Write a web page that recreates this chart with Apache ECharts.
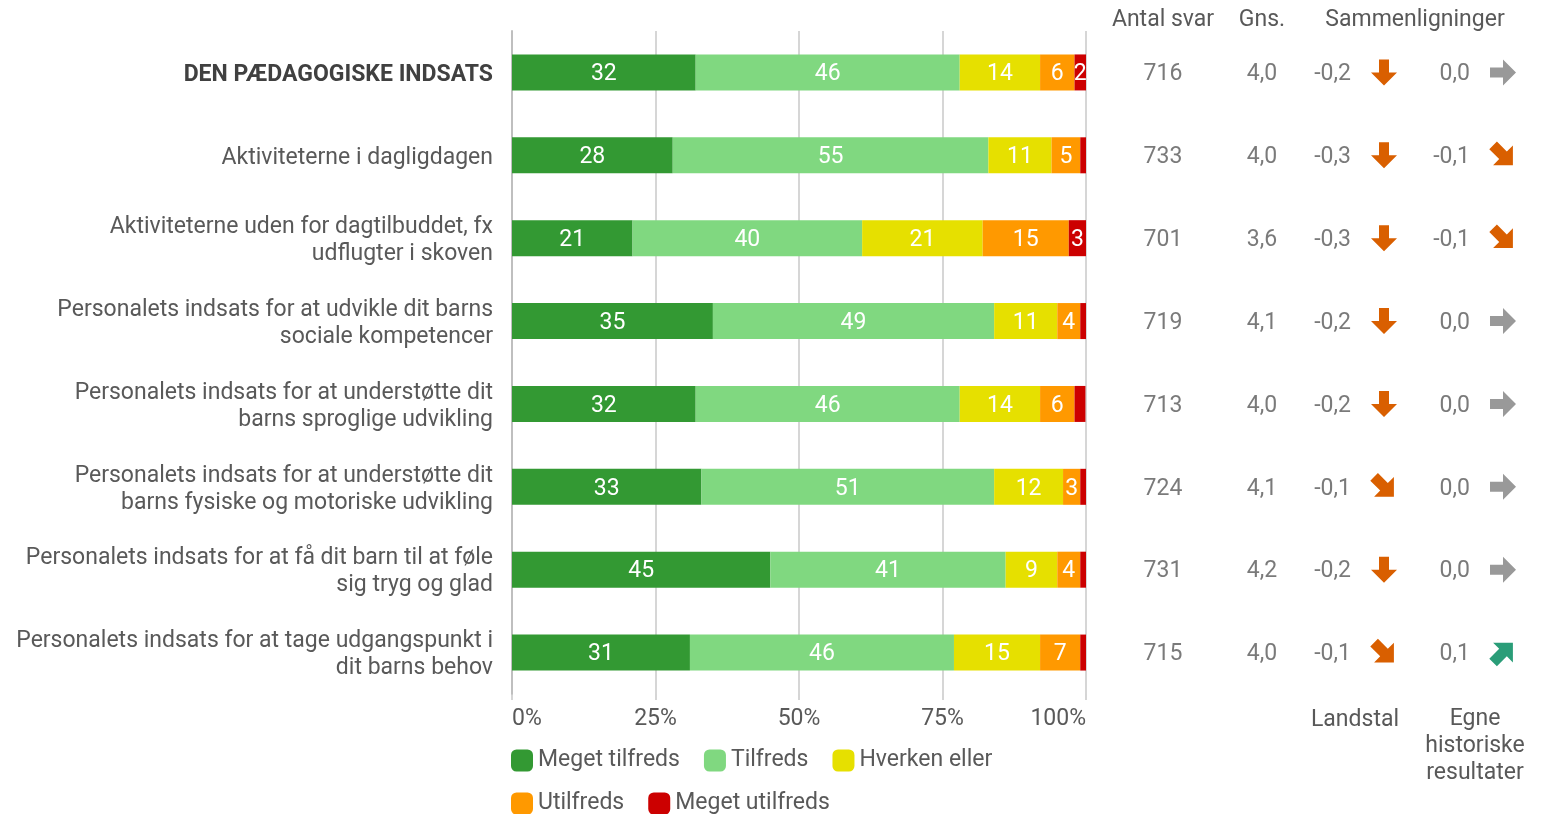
<!DOCTYPE html>
<html lang="da">
<head>
  <meta charset="UTF-8">
  <script src="https://cdn.jsdelivr.net/npm/echarts@6/dist/echarts.min.js"></script>
  <title>Tilfredshed</title>
  <style>
    html, body { margin: 0; height: 100%; background: #fff; }
    #chart { width: 1552px; height: 814px; }
  </style>
</head>
<body>
  <div id="chart"></div>
  <script>
    // kategorier (øverst -> nederst)
    var categories = [
      'DEN PÆDAGOGISKE INDSATS',
      'Aktiviteterne i dagligdagen',
      'Aktiviteterne uden for dagtilbuddet, fx\nudflugter i skoven',
      'Personalets indsats for at udvikle dit barns\nsociale kompetencer',
      'Personalets indsats for at understøtte dit\nbarns sproglige udvikling',
      'Personalets indsats for at understøtte dit\nbarns fysiske og motoriske udvikling',
      'Personalets indsats for at få dit barn til at føle\nsig tryg og glad',
      'Personalets indsats for at tage udgangspunkt i\ndit barns behov'
    ];

    // andele i procent
    var megetTilfreds  = [32, 28, 21, 35, 32, 33, 45, 31];
    var tilfreds       = [46, 55, 40, 49, 46, 51, 41, 46];
    var hverken        = [14, 11, 21, 11, 14, 12, 9, 15];
    var utilfreds      = [6, 5, 15, 4, 6, 3, 4, 7];
    var megetUtilfreds = [2, 1, 3, 1, 1.9, 1, 1, 1];

    var antalSvar = [716, 733, 701, 719, 713, 724, 731, 715];
    var gns       = [4.0, 4.0, 3.6, 4.1, 4.0, 4.1, 4.2, 4.0];
    var landstal  = [-0.2, -0.3, -0.3, -0.2, -0.2, -0.1, -0.2, -0.1];
    var egne      = [0.0, -0.1, -0.1, 0.0, 0.0, 0.0, 0.0, 0.1];

    var xTicks = ['0%', '25%', '50%', '75%', '100%'];

    var seriesNames = ['Meget tilfreds', 'Tilfreds', 'Hverken eller', 'Utilfreds', 'Meget utilfreds'];
    var seriesData = [megetTilfreds, tilfreds, hverken, utilfreds, megetUtilfreds];
    var colors = ['#339933', '#80d880', '#e6e000', '#ff9900', '#cc0000'];

    var txt = '#595959';
    var font = 'Roboto';
    var fs = 23;

    function komma(v) {
      return v.toFixed(1).replace('.', ',');
    }

    // pil: retning og farve ud fra ændringen
    var arrowPath = 'path://M0,8L13,8L13,0L26,13L13,26L13,18L0,18Z';
    function arrowItem(x, i, v) {
      var rot = 0, color = '#999999', size = 26;
      if (v <= -0.2) { rot = -90; color = '#d95f00'; }
      else if (v < 0) { rot = -45; color = '#d95f00'; size = 28; }
      else if (v >= 0.2) { rot = 90; color = '#2a9d78'; }
      else if (v > 0) { rot = 45; color = '#2a9d78'; size = 28; }
      return { value: [x, i], symbolRotate: rot, symbolSize: size, itemStyle: { color: color, opacity: 1 } };
    }

    function textSeries(x, values, fmt, align) {
      return {
        type: 'scatter',
        xAxisIndex: 1,
        yAxisIndex: 1,
        symbolSize: 0,
        silent: true,
        data: values.map(function (v, i) { return [x, i, v]; }),
        label: {
          show: true,
          position: 'inside',
          align: align || 'center',
          offset: [0, 2],
          color: txt,
          fontFamily: font,
          fontSize: fs,
          formatter: function (p) { return fmt(p.value[2]); }
        }
      };
    }

    var chart = echarts.init(document.getElementById('chart'));

    var series = seriesNames.map(function (name, k) {
      return {
        name: name,
        type: 'bar',
        stack: 'total',
        barWidth: 36,
        itemStyle: { color: colors[k] },
        label: {
          show: true,
          color: '#fff',
          fontFamily: font,
          fontSize: fs,
          offset: [0, 2],
          formatter: function (p) { return p.value >= 2 ? Math.round(p.value) : ''; }
        },
        data: seriesData[k]
      };
    });

    series.push(textSeries(63, antalSvar, function (v) { return v; }));
    series.push(textSeries(162, gns, komma));
    series.push(textSeries(251, landstal, komma, 'right'));
    series.push(textSeries(370, egne, komma, 'right'));
    series.push({
      type: 'scatter', xAxisIndex: 1, yAxisIndex: 1, silent: true,
      symbol: arrowPath,
      data: landstal.map(function (v, i) { return arrowItem(284, i, v); })
    });
    series.push({
      type: 'scatter', xAxisIndex: 1, yAxisIndex: 1, silent: true,
      symbol: arrowPath,
      data: egne.map(function (v, i) { return arrowItem(403, i, v); })
    });

    function header(text, x, y, va) {
      return {
        type: 'text', x: x, y: y,
        style: {
          text: text, fill: txt, font: fs + 'px Roboto', lineHeight: 27,
          align: 'center', verticalAlign: va || 'middle'
        }
      };
    }

    var legendBase = {
      left: 506,
      icon: 'roundRect',
      itemWidth: 22,
      itemHeight: 22,
      itemGap: 24,
      textStyle: { color: txt, fontSize: fs, fontFamily: font }
    };

    var option = {
      animation: false,
      textStyle: { fontFamily: font },
      grid: [
        { left: 512, right: 466, top: 31, bottom: 120 },
        { left: 1100, right: 0, top: 31, bottom: 120 }
      ],
      legend: [
        Object.assign({}, legendBase, { data: seriesNames.slice(0, 3), top: 744 }),
        Object.assign({}, legendBase, { data: seriesNames.slice(3), top: 787 })
      ],
      xAxis: [{
        type: 'value',
        min: 0,
        max: 100,
        interval: 25,
        axisLine: { show: false },
        axisTick: { show: true, length: 6, lineStyle: { color: '#c8c8c8', width: 1.5 } },
        splitLine: { lineStyle: { color: '#c8c8c8', width: 1.5 } },
        axisLabel: {
          color: txt, fontSize: fs, fontFamily: font, margin: 14,
          alignMinLabel: 'left', alignMaxLabel: 'right',
          formatter: function (v) { return xTicks[v / 25]; }
        }
      }, {
        gridIndex: 1, type: 'value', min: 0, max: 452, show: false
      }],
      yAxis: [{
        type: 'category',
        inverse: true,
        data: categories,
        axisTick: { show: false },
        axisLine: { lineStyle: { color: '#bfbfbf', width: 2 } },
        axisLabel: {
          color: txt,
          fontSize: fs,
          fontFamily: font,
          lineHeight: 27,
          margin: 19,
          padding: [5, 0, 0, 0],
          formatter: function (v, i) { return i === 0 ? '{b|' + v + '}' : v; },
          rich: {
            b: { fontWeight: 'bold', color: '#404040', fontSize: fs, fontFamily: font }
          }
        }
      }, {
        gridIndex: 1, type: 'category', inverse: true, data: categories, show: false
      }],
      graphic: [
        header('Antal svar', 1163, 20),
        header('Gns.', 1262, 20),
        header('Sammenligninger', 1415, 20),
        header('Landstal', 1355, 720),
        header('Egne\nhistoriske\nresultater', 1475, 706, 'top')
      ],
      series: series
    };

    chart.setOption(option);
  </script>
</body>
</html>
